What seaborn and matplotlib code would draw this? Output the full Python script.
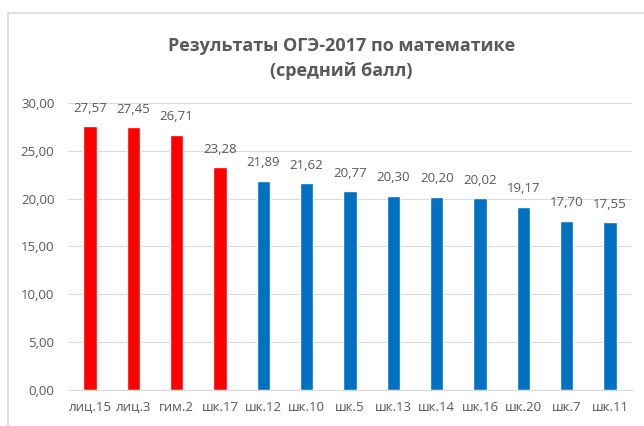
import matplotlib
matplotlib.use("Agg")
import matplotlib.pyplot as plt
import seaborn as sns
import pandas as pd
from matplotlib.patches import Rectangle

schools = ["лиц.15", "лиц.3", "гим.2", "шк.17", "шк.12", "шк.10", "шк.5",
           "шк.13", "шк.14", "шк.16", "шк.20", "шк.7", "шк.11"]
scores = [27.57, 27.45, 26.71, 23.28, 21.89, 21.62, 20.77,
          20.30, 20.20, 20.02, 19.17, 17.70, 17.55]
groups = ["top"] * 4 + ["rest"] * 9

df = pd.DataFrame({"school": schools, "score": scores, "group": groups})

sns.set_theme(style="white")
plt.rcParams["font.family"] = ["Open Sans", "DejaVu Sans"]

gray = "#595959"
fig = plt.figure(figsize=(6.44, 4.26), dpi=100)
ax = fig.add_axes([0.106, 0.085, 0.875, 0.673])

sns.barplot(data=df, x="school", y="score", hue="group",
            palette={"top": "#ff0000", "rest": "#0070c0"},
            dodge=False, width=0.31, legend=False, ax=ax, saturation=1)

ax.set_ylim(0, 30)
ax.set_yticks(range(0, 31, 5))
ax.set_yticklabels([f"{v:.2f}".replace(".", ",") for v in range(0, 31, 5)],
                   fontsize=9.5, color=gray)
ax.tick_params(axis="x", labelsize=9.5, labelcolor=gray, length=0, pad=8)
ax.tick_params(axis="y", length=0, pad=10)
ax.set_xlabel("")
ax.set_ylabel("")
ax.set_xlim(-0.5, len(schools) - 0.5)

ax.grid(axis="y", color="#d9d9d9", linewidth=0.8)
ax.set_axisbelow(True)
for side in ["left", "right", "top"]:
    ax.spines[side].set_visible(False)
ax.spines["bottom"].set_color("#d9d9d9")
ax.spines["bottom"].set_linewidth(0.8)

for i, v in enumerate(scores):
    ax.text(i, v + 1.2, f"{v:.2f}".replace(".", ","), ha="center", va="bottom",
            fontsize=9.5, color=gray)

fig.text(0.53, 0.863, "Результаты ОГЭ-2017 по математике\n(средний балл)",
         ha="center", va="center", fontsize=13, fontweight="bold",
         color=gray, linespacing=1.5)

# chart frame (left and top edges visible)
fig.patches.append(Rectangle((8 / 644, -0.1), 1.2, 1.1 - 13 / 426,
                             transform=fig.transFigure, fill=False,
                             edgecolor="#d9d9d9", linewidth=1.2))

fig.savefig("out.png", dpi=100)
